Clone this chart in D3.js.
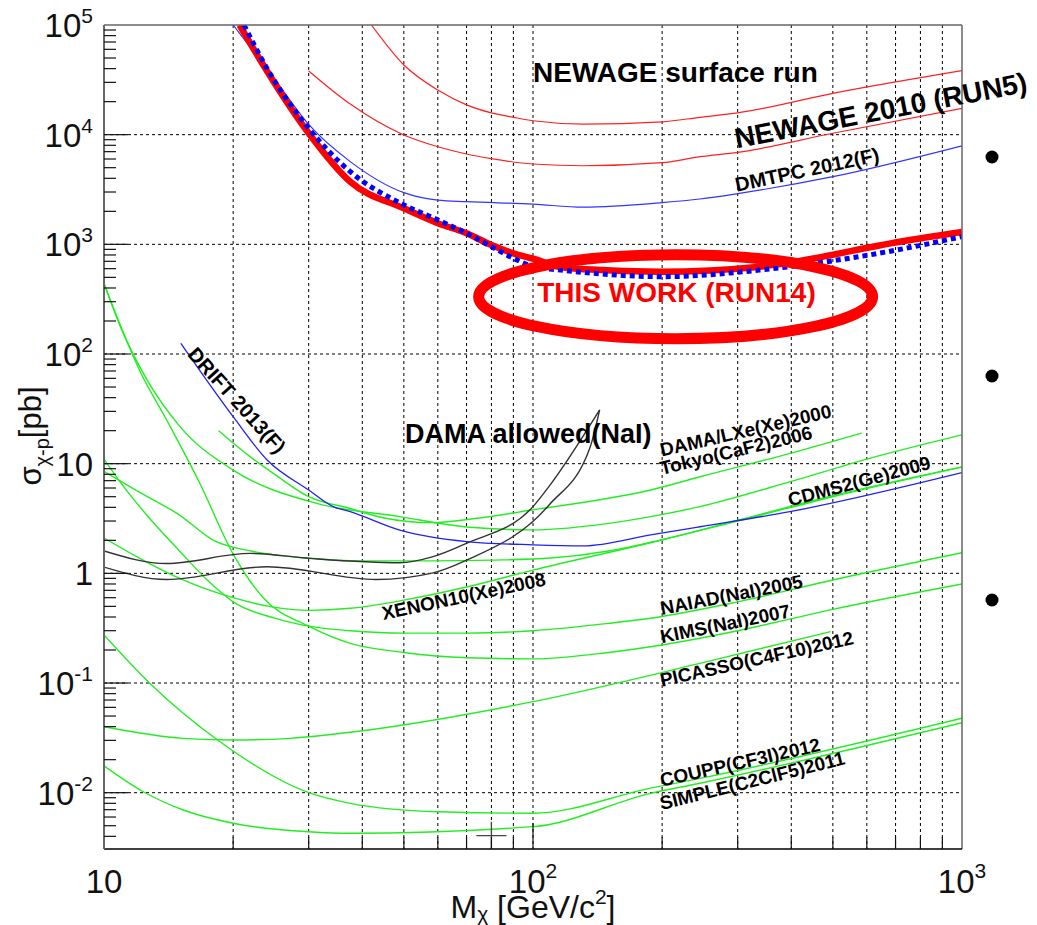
<!DOCTYPE html>
<html><head><meta charset="utf-8">
<script src="https://cdn.jsdelivr.net/npm/d3@7"></script>
<style>body{margin:0;background:#fff;} svg{display:block;font-family:"Liberation Sans",Arial,sans-serif;}</style>
</head><body><svg id="c" width="1037" height="925"></svg>
<script>
// ---------- data: [mass GeV/c^2, cross-section pb] ----------
const xTickLabels = [[10,""],[100,"2"],[1000,"3"]];
const yTickLabels = [[1e5,"5"],[1e4,"4"],[1e3,"3"],[1e2,"2"],[10,""],[1,""],[0.1,"-1"],[0.01,"-2"]];

const newageSurface = [[42,1e5],[50,43200],[60,25500],[70,18700],[80,15800],[90,14400],[100,13400],[131,12500],[200,13100],[245,14400],[300,15800],[500,23800],[1000,38300]];
const newage2010 = [[30,38100],[37.5,19000],[50,9930],[60,7760],[70,6660],[80,6040],[100,5400],[131,5210],[200,5550],[245,6300],[300,6900],[500,10300],[1000,17400]];
const dmtpc2012 = [[20,1e5],[25,32000],[30,12400],[37.5,5680],[50,2960],[60,2530],[70,2450],[100,2330],[131,2180],[200,2400],[245,2590],[300,2900],[500,4140],[1000,7920]];
const thisWorkRun14 = [[20.7,1e5],[23.9,38900],[30,10300],[37.5,3720],[50,2130],[60,1560],[70,1260],[80,986],[90,828],[100,740],[116,620],[133,592],[198,562],[338,625],[403,690],[716,1057],[1000,1296]];
const thisWorkExpected = [[21.2,1e5],[24,40000],[30,11400],[37.5,4600],[50,2290],[60,1670],[70,1260],[80,953],[90,747],[100,626],[116,583],[200,507],[338,583],[484,695],[705,888],[1000,1175]];
const drift2013 = [[15.1,125],[20,26.8],[24,10.8],[30,5.75],[34.2,4.06],[37.5,3.65],[48.9,2.48],[70,1.95],[100,1.82],[131,1.78],[188,2.24],[245,2.66],[397,3.65],[1000,8.28]];

const damaLXe = [[18.5,20],[21.9,11.6],[25,8],[30,5.0],[37.5,3.9],[45,3.2],[58,2.9],[75,3.2],[100,3.8],[188,5.75],[245,7.6],[400,12.5],[584,19]];
const tokyoCaF2 = [[10,440],[11,166],[12.6,58],[15,22],[20,8.75],[31.3,4.35],[48.9,3.29],[70,2.65],[100,2.49],[140,2.75],[188,3.29],[245,4.06],[400,6.9],[600,11],[1000,18.3]];
const cdms2Ge = [[10,8.5],[12,5.6],[15,3.4],[18,2.0],[22,1.6],[29.7,1.38],[40,1.3],[58,1.3],[80,1.32],[110,1.38],[150,1.6],[188,1.92],[300,3.05],[500,5.1],[1000,9.35]];
const xenon10 = [[10,2.1],[12,1.4],[15,0.9],[20,0.6],[25,0.49],[30,0.46],[37.5,0.48],[50,0.57],[70,0.75],[100,1.07],[150,1.55],[188,1.9],[300,3.0],[500,5.0],[1000,9.3]];
const naiad2005 = [[10,11],[11,6.5],[12.5,3.5],[15,1.6],[17.5,0.85],[20,0.55],[25,0.39],[30,0.33],[37.5,0.30],[50,0.285],[70,0.285],[100,0.30],[150,0.35],[188,0.39],[300,0.55],[500,0.87],[1000,1.54]];
const kims2007 = [[10,440],[11,170],[12.1,71],[14,25],[16.7,6.7],[20,1.5],[23.5,0.6],[30,0.33],[37.5,0.23],[50,0.19],[70,0.17],[100,0.166],[150,0.19],[188,0.214],[300,0.3],[500,0.47],[1000,0.8]];
const picasso2012 = [[10,0.040],[15.3,0.0313],[20,0.0302],[27.1,0.0313],[37.5,0.0356],[100,0.0676],[245,0.151],[494,0.294]];
const coupp2012 = [[10,0.274],[12.8,0.099],[18.4,0.0302],[30,0.010],[37.5,0.0080],[60,0.0067],[100,0.0065],[188,0.011],[245,0.0135],[1000,0.0477]];
const simple2011 = [[10,0.0176],[12.35,0.0102],[15.3,0.00695],[20,0.00526],[30,0.00441],[37.5,0.00427],[100,0.0049],[188,0.00987],[245,0.0122],[1000,0.0435]];

const damaUpper = [[10,1.60],[14,1.23],[21.9,1.52],[30.2,1.37],[48.9,1.25],[58.5,1.42],[70,1.88],[100,4.06],[109,6.2],[143,30.9]];
const damaLower = [[10,1.14],[14,0.88],[24,1.15],[43.2,0.88],[58.5,1.01],[70,1.32],[109,4.2],[136,14.3],[143,30.9]];

const crossMark = [80, 0.00406];
const highlight = [215, 333];

// ---------- layout ----------
const svg = d3.select("#c");
svg.append("rect").attr("width",1037).attr("height",925).attr("fill","#fff");
const x = d3.scaleLog().domain([10,1000]).range([104,962]);
const y = d3.scaleLog().domain([0.003066,1e5]).range([849,25]);
const [X0,X1] = x.range(), [Y0,Y1] = [y.range()[1], y.range()[0]];

svg.append("clipPath").attr("id","pc").append("rect").attr("x",X0).attr("y",Y0).attr("width",X1-X0).attr("height",Y1-Y0);

// grid
const xGrid = [20,30,40,50,60,70,80,90,100,200,300,400,500,600,700,800,900];
const yGrid = [1e4,1e3,1e2,10,1,0.1,0.01];
const g = svg.append("g").attr("stroke","#000").attr("stroke-width",1).attr("stroke-dasharray","3,3");
g.selectAll(".gx").data(xGrid).join("line").attr("x1",d=>x(d)).attr("x2",d=>x(d)).attr("y1",Y0).attr("y2",Y1);
g.selectAll(".gy").data(yGrid).join("line").attr("x1",X0).attr("x2",X1).attr("y1",d=>y(d)).attr("y2",d=>y(d));

const line = d3.line().x(d=>x(d[0])).y(d=>y(d[1])).curve(d3.curveMonotoneX);
const plot = svg.append("g").attr("clip-path","url(#pc)").attr("fill","none");
function draw(data,color,w,dash){
  const p = plot.append("path").datum(data).attr("d",line).attr("stroke",color).attr("stroke-width",w).attr("stroke-linejoin","round");
  if(dash) p.attr("stroke-dasharray",dash);
  return p;
}
const GREEN = "#22ee22";
[damaLXe,tokyoCaF2,cdms2Ge,xenon10,naiad2005,kims2007,picasso2012,coupp2012,simple2011].forEach(s=>draw(s,GREEN,1.4));
draw(damaUpper,"#333",1.4); draw(damaLower,"#333",1.4);
draw(drift2013,"#2222ee",1.3);
draw(dmtpc2012,"#3333ff",1.2);
draw(newageSurface,"#ff2020",1.2);
draw(newage2010,"#ff2020",1.2);
draw(thisWorkRun14,"#ff0000",6.5);
draw(thisWorkExpected,"#0000ff",5,"5,4");

// cross mark
svg.append("path").attr("stroke","#444").attr("stroke-width",1.3).attr("fill","none")
  .attr("d",`M${x(crossMark[0])-15},${y(crossMark[1])}H${x(crossMark[0])+15}M${x(crossMark[0])},${y(crossMark[1])-14}V${Y1}`);

// highlight ellipse
svg.append("ellipse").attr("cx",x(highlight[0])).attr("cy",y(highlight[1])).attr("rx",197).attr("ry",42)
  .attr("fill","none").attr("stroke","#ff0000").attr("stroke-width",11);

// frame
svg.append("line").attr("x1",X0).attr("x2",X1).attr("y1",Y0).attr("y2",Y0).attr("stroke","#666").attr("stroke-width",1.5);
svg.append("line").attr("x1",X1).attr("x2",X1).attr("y1",Y0).attr("y2",Y1).attr("stroke","#666").attr("stroke-width",1.5);
svg.append("line").attr("x1",X0).attr("x2",X1).attr("y1",Y1).attr("y2",Y1).attr("stroke","#000").attr("stroke-width",1.6);
svg.append("line").attr("x1",X0).attr("x2",X0).attr("y1",Y0).attr("y2",Y1).attr("stroke","#666").attr("stroke-width",2);

// ticks
const tk = svg.append("g").attr("stroke","#111").attr("stroke-width",1.2);
const yMinor = [];
for(let e=-3;e<5;e++) for(let k=1;k<10;k++){const v=k*Math.pow(10,e); if(v>=y.domain()[0]&&v<=1e5) yMinor.push([v,k===1]);}
tk.selectAll(".ty").data(yMinor).join("line").attr("x1",X0).attr("x2",d=>X0+(d[1]?24:12)).attr("y1",d=>y(d[0])).attr("y2",d=>y(d[0]));
const xMinor = [];
for(let e=1;e<3;e++) for(let k=1;k<10;k++){const v=k*Math.pow(10,e); if(v>10&&v<1000) xMinor.push([v,k===1]);}
tk.selectAll(".tx").data(xMinor).join("line").attr("x1",d=>x(d[0])).attr("x2",d=>x(d[0])).attr("y1",Y1).attr("y2",d=>Y1-(d[1]?26:12));

// tick labels
const yl = svg.append("g").attr("font-size",33).attr("fill","#111").attr("text-anchor","end");
yTickLabels.forEach(([v,sup])=>{
  const t = yl.append("text").attr("x",93).attr("y",y(v)+12).text(v>=10||v<1?"10":"1");
  if(sup) t.append("tspan").attr("font-size",21).attr("dy",-14).text(sup);
});
const xl = svg.append("g").attr("font-size",33).attr("fill","#111").attr("text-anchor","middle");
xTickLabels.forEach(([v,sup])=>{
  const t = xl.append("text").attr("x",x(v)).attr("y",893).text("10");
  if(sup) t.append("tspan").attr("font-size",21).attr("dy",-15).text(sup);
});

// axis titles
const xt = svg.append("text").attr("x",x(100)).attr("y",918).attr("font-size",32).attr("text-anchor","middle").attr("fill","#111");
xt.append("tspan").text("M");
xt.append("tspan").attr("font-size",21).attr("dy",3).text("χ");
xt.append("tspan").attr("dy",-3).text(" [GeV/c");
xt.append("tspan").attr("font-size",21).attr("dy",-14).text("2");
xt.append("tspan").attr("dy",14).text("]");
const yt = svg.append("text").attr("transform","translate(41,436) rotate(-90)").attr("font-size",31).attr("text-anchor","middle").attr("fill","#111");
yt.append("tspan").text("σ");
yt.append("tspan").attr("font-size",20).attr("dy",8).text("χ-p");
yt.append("tspan").attr("dy",-8).text("[pb]");

// annotations [text, mass, sigma, angle, size, weight, color, anchor]
const annotations = [
  ["NEWAGE surface run",100,30000,0,28,"bold","#000","start"],
  ["NEWAGE 2010 (RUN5)",298.5,7520,-11,28,"bold","#000","start"],
  ["DMTPC 2012(F)",298.5,3020,-12,20,"bold","#000","start"],
  ["THIS WORK (RUN14)",216,300,0,28,"bold","#ff0000","middle"],
  ["DAMA allowed(NaI)",50.3,15.4,0,27,"bold","#000","start"],
  ["DRIFT 2013(F)",15.6,98,48,20,"bold","#000","start"],
  ["DAMA/LXe(Xe)2000",199.5,11.6,-13,19,"bold","#000","start"],
  ["Tokyo(CaF2)2006",199.5,7.9,-13.5,19,"bold","#000","start"],
  ["CDMS2(Ge)2009",397,4.06,-15,19,"bold","#000","start"],
  ["XENON10(Xe)2008",44.8,0.376,-12,19,"bold","#000","start"],
  ["NAIAD(NaI)2005",199.5,0.417,-11,19,"bold","#000","start"],
  ["KIMS(NaI)2007",199.5,0.23,-11.5,19,"bold","#000","start"],
  ["PICASSO(C4F10)2012",199.5,0.0925,-12.5,19,"bold","#000","start"],
  ["COUPP(CF3I)2012",199.5,0.01133,-12.7,19,"bold","#000","start"],
  ["SIMPLE(C2ClF5)2011",199.5,0.00695,-14,19,"bold","#000","start"]
];
svg.selectAll(".ann").data(annotations).join("text")
  .attr("transform",d=>`translate(${x(d[1])},${y(d[2])}) rotate(${d[3]})`)
  .attr("font-size",d=>d[4]).attr("font-weight",d=>d[5]).attr("fill",d=>d[6]).attr("text-anchor",d=>d[7])
  .text(d=>d[0]);

// slide bullets on right margin
svg.selectAll(".bul").data([157,376,600]).join("circle").attr("cx",992).attr("cy",d=>d).attr("r",6.5).attr("fill","#000");
</script></body></html>
